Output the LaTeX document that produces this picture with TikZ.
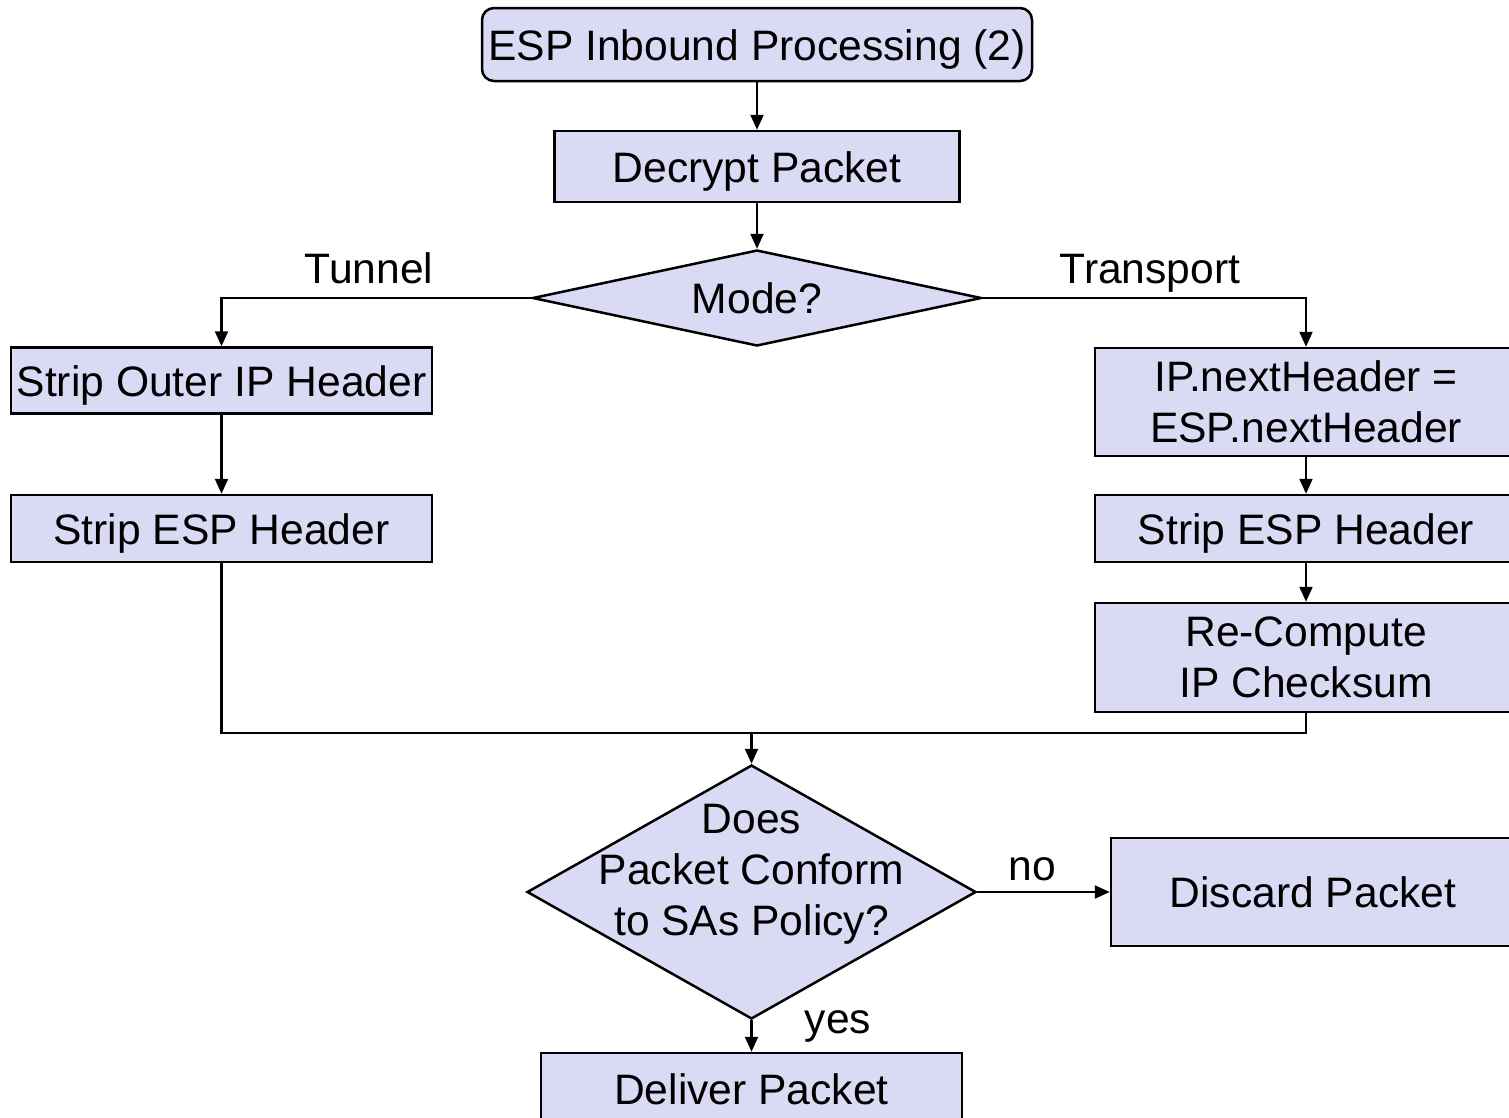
\documentclass[tikz,border=0pt]{standalone}
\usepackage{fontspec}
\setmainfont{Liberation Sans}
\usetikzlibrary{shapes.geometric,arrows.meta}
\definecolor{boxfill}{RGB}{218,218,245}
\begin{document}
\begin{tikzpicture}[x=1pt,y=-1pt,
  every node/.style={font=\fontsize{42.6}{51}\selectfont},
  box/.style={draw=black,line width=2.5pt,fill=boxfill,inner sep=0pt,align=center,rectangle},
  onebox/.style={box,text height=31pt,text depth=0pt},
  decision/.style={draw=black,line width=2.5pt,fill=boxfill,inner sep=0pt,diamond},
  conn/.style={draw=black,line width=2.2pt,-{Triangle[length=15pt,width=13pt]}},
  plain/.style={draw=black,line width=2.2pt},
  lbl/.style={anchor=base,inner sep=0pt}
]
\useasboundingbox (0,0) rectangle (1509,1117);
\clip (0,0) rectangle (1509,1117);

\node[onebox,rounded corners=12pt,minimum width=550pt,minimum height=73pt] (title) at (757,44.5) {ESP Inbound Processing (2)};
\node[onebox,minimum width=405pt,minimum height=71pt] (decrypt) at (757,166.5) {Decrypt Packet};
\node[decision,minimum width=449pt,minimum height=96pt] (mode) at (757,298) {};
\node[inner sep=0pt] (modetext) at (757,298) {Mode?};

\node[onebox,minimum width=421pt,minimum height=66pt] (stripouter) at (221.5,380.5) {Strip Outer IP Header};
\node[onebox,minimum width=421pt,minimum height=67pt] (stripespL) at (221.5,528.5) {Strip ESP Header};

\node[box,minimum width=422pt,minimum height=108pt] (ipnext) at (1306,402) {IP.nextHeader =\\ESP.nextHeader};
\node[onebox,minimum width=422pt,minimum height=67pt] (stripespR) at (1306,528.5) {Strip ESP Header};
\node[box,minimum width=422pt,minimum height=109pt] (recompute) at (1306,657.5) {Re-Compute\\IP Checksum};

\node[decision,minimum width=449pt,minimum height=254pt] (policy) at (751.5,892) {};
\node[inner sep=0pt,align=center] (policytext) at (751.5,874) {Does\\Packet Conform\\to SAs Policy?};

\node[onebox,minimum width=404pt,minimum height=108pt] (discard) at (1313,892) {Discard Packet};
\node[onebox,minimum width=421pt,minimum height=71pt] (deliver) at (751.5,1088.5) {Deliver Packet};

\node[lbl] (tunnel) at (369,283) {Tunnel};
\node[lbl] (transport) at (1150,283) {Transport};
\node[lbl] (no) at (1032,880) {no};
\node[lbl] (yes) at (838,1033) {yes};

\coordinate (merge) at (751.5,733);

\draw[conn] (title.south) -- (decrypt.north);
\draw[conn] (decrypt.south) -- (mode.north);
\draw[conn] (mode.west) -| (stripouter.north);
\draw[conn] (mode.east) -| (ipnext.north);
\draw[conn] (stripouter.south) -- (stripespL.north);
\draw[conn] (ipnext.south) -- (stripespR.north);
\draw[conn] (stripespR.south) -- (recompute.north);
\draw[plain] (stripespL.south) |- (merge) -| (recompute.south);
\draw[conn] (merge) -- (policy.north);
\draw[conn] (policy.east) -- (discard.west);
\draw[conn] (policy.south) -- (deliver.north);
\end{tikzpicture}
\end{document}
